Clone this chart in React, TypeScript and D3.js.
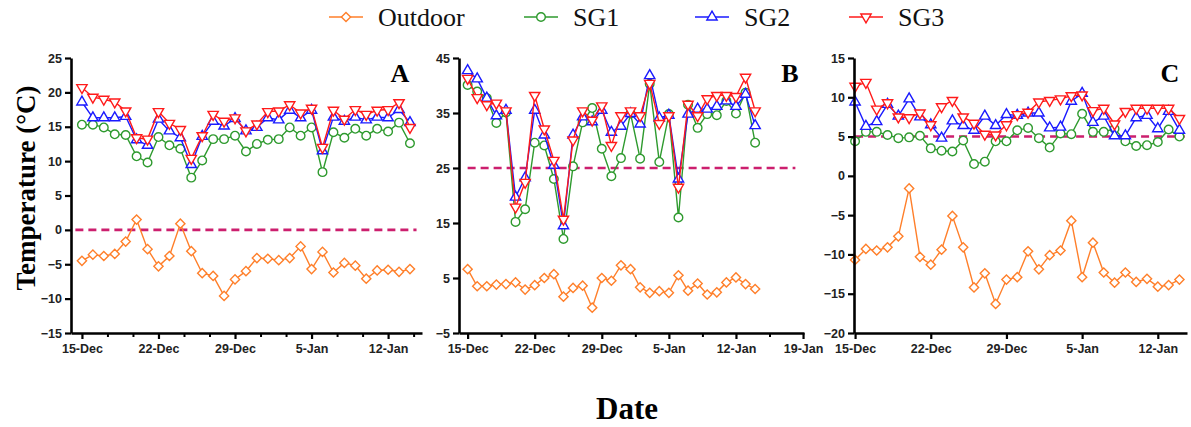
import React, { useEffect, useRef } from 'react';
import * as d3 from 'd3';

// Daily readings, 15-Dec .. 14-Jan (31 days)
const startDay = new Date(Date.UTC(2019, 11, 15));
const dates = d3.range(31).map((i) => d3.utcDay.offset(startDay, i));

const seriesNames = ['Outdoor', 'SG1', 'SG2', 'SG3'];

// Panel A
const outdoorA = [-4.5, -3.6, -3.8, -3.5, -1.7, 1.5, -2.8, -5.3, -3.8, 0.9, -3.1, -6.3, -6.7, -9.6, -7.2, -6.0, -4.1, -4.2, -4.4, -4.1, -2.4, -5.7, -3.2, -6.2, -4.8, -5.2, -7.1, -5.9, -5.8, -6.1, -5.7];
const sg1A = [15.3, 15.3, 14.9, 13.9, 13.8, 10.7, 9.8, 13.5, 12.3, 11.8, 7.6, 10.1, 13.2, 13.2, 13.7, 11.4, 12.5, 13.1, 13.2, 14.9, 13.7, 14.9, 8.4, 14.2, 13.4, 14.7, 13.7, 14.7, 14.3, 15.6, 12.6];
const sg2A = [18.6, 16.3, 16.3, 16.3, 16.5, 13.1, 12.3, 16.1, 14.4, 13.4, 9.5, 13.6, 15.8, 15.1, 16.2, 14.4, 14.9, 16.3, 16.0, 17.4, 16.3, 17.4, 11.5, 16.4, 15.8, 16.4, 16.0, 16.4, 16.3, 17.5, 15.6];
const sg3A = [20.7, 19.3, 19.0, 18.6, 17.3, 13.4, 13.2, 17.2, 15.5, 14.6, 10.4, 13.7, 16.8, 15.8, 16.3, 14.4, 15.4, 17.2, 17.3, 18.2, 17.0, 17.7, 12.0, 17.4, 16.1, 17.5, 16.8, 17.4, 17.5, 18.5, 14.9];

// Panel B
const outdoorB = [6.6, 3.5, 3.5, 3.8, 3.9, 4.2, 2.9, 3.7, 5.0, 5.7, 1.6, 3.2, 3.6, -0.4, 5.0, 4.5, 7.3, 6.6, 3.3, 2.3, 2.6, 2.3, 5.5, 2.7, 4.0, 2.0, 2.4, 4.2, 5.1, 3.9, 3.0];
const sg1B = [40.1, 38.9, 37.7, 33.2, 35.1, 15.2, 17.5, 29.6, 29.1, 23.0, 12.1, 25.3, 33.3, 35.9, 28.5, 23.5, 26.8, 34.9, 26.7, 40.3, 26.1, 34.8, 16.0, 36.5, 32.3, 34.8, 34.6, 37.2, 34.9, 38.7, 29.6];
const sg2B = [42.7, 41.2, 37.7, 34.5, 35.5, 19.7, 23.2, 35.5, 31.0, 25.5, 14.5, 31.0, 34.3, 33.4, 35.5, 31.5, 32.6, 34.9, 33.0, 41.8, 34.1, 34.6, 23.0, 34.8, 35.7, 35.7, 36.2, 37.2, 36.2, 38.4, 32.7];
const sg3B = [41.3, 37.8, 36.5, 36.8, 35.4, 17.9, 22.4, 38.2, 32.1, 26.4, 15.7, 30.1, 35.4, 33.7, 36.3, 29.1, 34.5, 35.4, 34.5, 40.4, 33.1, 34.5, 21.5, 36.6, 34.5, 37.6, 38.2, 38.2, 38.0, 41.5, 35.4];

// Panel C
const outdoorC = [-10.7, -9.3, -9.5, -9.1, -7.7, -1.6, -10.3, -11.3, -9.4, -5.1, -9.1, -14.2, -12.4, -16.3, -13.2, -12.9, -9.6, -11.9, -10.1, -9.5, -5.7, -12.9, -8.5, -12.3, -13.6, -12.3, -13.5, -13.1, -14.1, -13.9, -13.2];
const sg1C = [4.4, 5.6, 5.6, 5.2, 4.8, 4.9, 5.1, 3.5, 3.2, 3.1, 4.5, 1.5, 1.8, 4.4, 4.4, 5.8, 6.1, 4.8, 3.6, 5.4, 5.3, 7.9, 5.6, 5.6, 6.0, 4.4, 3.8, 3.9, 4.3, 5.9, 5.0];
const sg2C = [9.4, 6.3, 6.9, 9.1, 7.6, 9.8, 7.5, 6.5, 4.8, 7.0, 6.4, 5.8, 7.6, 6.4, 7.8, 7.7, 8.0, 8.0, 6.1, 6.2, 9.5, 10.5, 6.8, 7.6, 5.1, 5.1, 7.4, 7.7, 6.0, 8.2, 5.8];
const sg3C = [11.4, 11.9, 8.5, 9.3, 7.5, 7.4, 8.0, 6.5, 8.8, 9.6, 7.5, 6.7, 5.3, 5.2, 6.5, 7.8, 8.1, 9.4, 9.6, 9.8, 10.2, 10.3, 8.3, 8.6, 6.6, 8.2, 8.6, 8.6, 8.6, 8.6, 7.3];

const yTicksA = [-15, -10, -5, 0, 5, 10, 15, 20, 25];
const yTicksB = [-5, 5, 15, 25, 35, 45];
const yTicksC = [-20, -15, -10, -5, 0, 5, 10, 15];

const colors = ['#ff7f2a', '#2e9a2e', '#1a1aff', '#ff1a1a'];
const dashColor = '#cc1f6e';

const TOP = 58;
const BOTTOM = 333;
const fmt = d3.utcFormat('%-d-%b');
const off = (n: number) => new Date(startDay.getTime() + n * 864e5);

const panels = [
  {
    id: 'A', left: 71, right: 422, dom: [-1, 31.1], yDomain: [-15, 25], yTicks: yTicksA,
    majors: 5, minorPerMajor: 2, threshold: 0, dash: [-0.6, 30.6],
    series: [outdoorA, sg1A, sg2A, sg3A], labelX: 400,
  },
  {
    id: 'B', left: 459, right: 804, dom: [-0.9, 35.1], yDomain: [-5, 45], yTicks: yTicksB,
    majors: 6, minorPerMajor: 1, threshold: 25, dash: [0, 34.2],
    series: [outdoorB, sg1B, sg2B, sg3B], labelX: 790,
  },
  {
    id: 'C', left: 854, right: 1187, dom: [-0.1, 30.7], yDomain: [-20, 15], yTicks: yTicksC,
    majors: 5, minorPerMajor: 0, threshold: 5, dash: [0, 30.5],
    series: [outdoorC, sg1C, sg2C, sg3C], labelX: 1170,
  },
];

const markerPath = (k: number) => {
  if (k === 0) return 'M0,-4.6L4.6,0L0,4.6L-4.6,0Z';
  if (k === 1) return d3.symbol(d3.symbolCircle, 58)() as string;
  return d3.symbol(d3.symbolTriangle, 46)() as string;
};

function Marker({ k, x, y }: { k: number; x: number; y: number }) {
  return (
    <path
      d={markerPath(k)}
      transform={`translate(${x},${y})${k === 3 ? ' rotate(180)' : ''}`}
      fill="#fff"
      stroke={colors[k]}
      strokeWidth={1.4}
    />
  );
}

function Panel({ p }: { p: any }) {
  const xRef = useRef<SVGGElement>(null);
  const xMinorRef = useRef<SVGGElement>(null);
  const yRef = useRef<SVGGElement>(null);

  const x = d3.scaleUtc().domain([off(p.dom[0]), off(p.dom[1])]).range([p.left, p.right]);
  const y = d3.scaleLinear().domain(p.yDomain).range([BOTTOM, TOP]);

  const majorTicks = d3.range(p.majors).map((i) => off(i * 7));
  const minorTicks: Date[] = [];
  if (p.minorPerMajor > 0) {
    const step = 7 / (p.minorPerMajor + 1);
    for (let d = step; off(d) <= x.domain()[1]; d += step) {
      if (Math.abs(d / 7 - Math.round(d / 7)) > 1e-6) minorTicks.push(off(d));
    }
  }

  useEffect(() => {
    const gx = d3.select(xRef.current!);
    gx.call(
      d3.axisBottom(x).tickValues(majorTicks).tickFormat((d) => fmt(d as Date)).tickSize(6).tickSizeOuter(0).tickPadding(5) as any,
    );
    gx.select('.domain').attr('stroke-width', 2.6);
    gx.selectAll('.tick line').attr('stroke-width', 2.2);
    gx.selectAll('.tick text')
      .attr('font-family', "'Liberation Sans', Arial, sans-serif")
      .attr('font-weight', 'bold')
      .attr('font-size', 12.5)
      .attr('fill', '#222');

    const gm = d3.select(xMinorRef.current!);
    gm.call(d3.axisBottom(x).tickValues(minorTicks).tickFormat(() => '').tickSize(4).tickSizeOuter(0) as any);
    gm.select('.domain').remove();
    gm.selectAll('.tick line').attr('stroke-width', 2);

    const gy = d3.select(yRef.current!);
    gy.call(d3.axisLeft(y).tickValues(p.yTicks).tickSize(6).tickSizeOuter(0).tickPadding(3) as any);
    gy.select('.domain').attr('stroke-width', 2.6);
    gy.selectAll('.tick line').attr('stroke-width', 2.2);
    gy.selectAll('.tick text')
      .attr('font-family', "'Liberation Sans', Arial, sans-serif")
      .attr('font-weight', 'bold')
      .attr('font-size', 12.5)
      .attr('fill', '#222');
  });

  const line = d3
    .line<number>()
    .x((_, i) => x(dates[i]))
    .y((d) => y(d));

  return (
    <g>
      <line
        x1={x(off(p.dash[0]))}
        x2={x(off(p.dash[1]))}
        y1={y(p.threshold)}
        y2={y(p.threshold)}
        stroke={dashColor}
        strokeWidth={2.6}
        strokeDasharray="8,5"
      />
      {p.series.map((s: number[], k: number) => (
        <g key={k}>
          <path d={line(s) as string} fill="none" stroke={colors[k]} strokeWidth={1.4} />
          {s.map((v, i) => (
            <Marker key={i} k={k} x={x(dates[i])} y={y(v)} />
          ))}
        </g>
      ))}
      <g ref={xMinorRef} transform={`translate(0,${BOTTOM})`} />
      <g ref={xRef} transform={`translate(0,${BOTTOM})`} />
      <g ref={yRef} transform={`translate(${p.left},0)`} />
      <text
        x={p.labelX}
        y={82}
        textAnchor="middle"
        fontFamily="'Liberation Serif', 'Times New Roman', serif"
        fontWeight="bold"
        fontSize={26}
      >
        {p.id}
      </text>
    </g>
  );
}

const legendX = [346, 541, 712, 866];

export default function App() {
  return (
    <svg width={1191} height={427} style={{ display: 'block', position: 'absolute', left: 0, top: 0 }}>
      <rect width={1191} height={427} fill="#fff" />
      {seriesNames.map((name, k) => (
        <g key={name}>
          <line x1={legendX[k] - 17} x2={legendX[k] + 17} y1={17} y2={17} stroke={colors[k]} strokeWidth={1.4} />
          <Marker k={k} x={legendX[k]} y={17} />
          <text
            x={legendX[k] + 32}
            y={26}
            fontFamily="'Liberation Serif', 'Times New Roman', serif"
            fontSize={26}
            fill="#111"
          >
            {name}
          </text>
        </g>
      ))}
      {panels.map((p) => (
        <Panel key={p.id} p={p} />
      ))}
      <text
        transform="translate(35,188) rotate(-90)"
        textAnchor="middle"
        fontFamily="'Liberation Serif', 'Times New Roman', serif"
        fontWeight="bold"
        fontSize={27}
      >
        Temperature (°C)
      </text>
      <text
        x={627}
        y={419}
        textAnchor="middle"
        fontFamily="'Liberation Serif', 'Times New Roman', serif"
        fontWeight="bold"
        fontSize={31}
      >
        Date
      </text>
    </svg>
  );
}
